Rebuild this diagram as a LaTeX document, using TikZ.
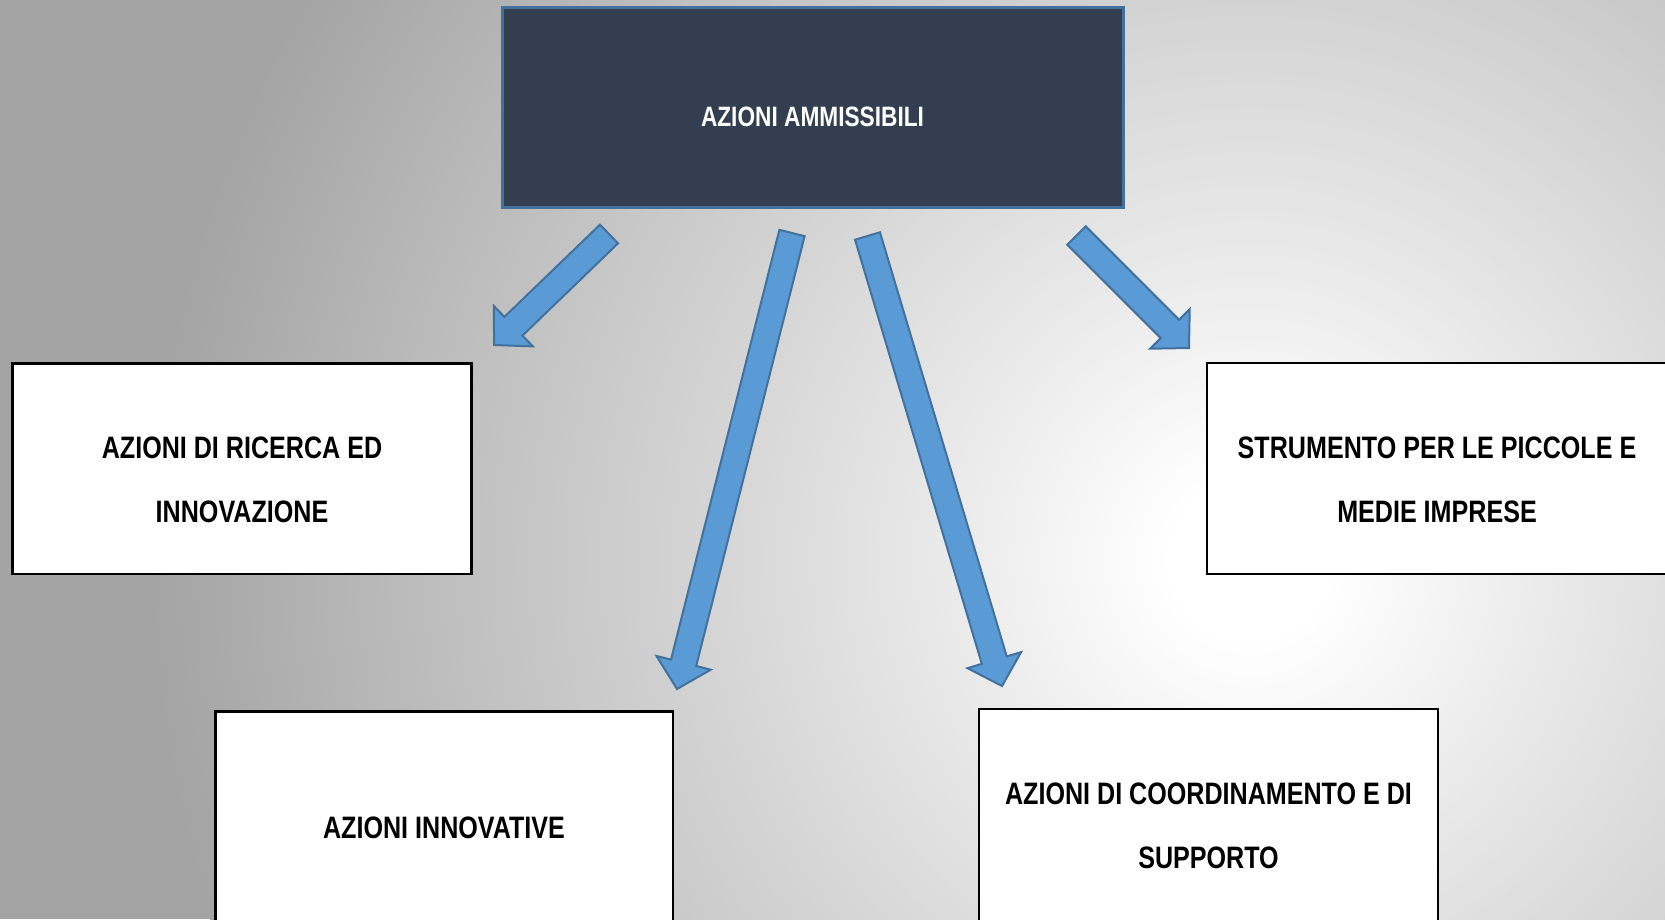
\documentclass[tikz,border=0pt]{standalone}
\usepackage{fontspec}
\setmainfont{Liberation Sans}[FakeStretch=0.81]
\usetikzlibrary{calc}
\definecolor{bgout}{HTML}{A4A4A4}
\definecolor{bgA}{HTML}{EAEAEA}
\definecolor{bgB}{HTML}{D4D4D4}
\definecolor{bgC}{HTML}{BFBFBF}
\definecolor{bgD}{HTML}{A8A8A8}
\definecolor{topfill}{HTML}{333F50}
\definecolor{topborder}{HTML}{41719C}
\definecolor{arrfill}{HTML}{5B9BD5}
\definecolor{arrborder}{HTML}{41719C}
\pgfdeclareradialshading{bgshade}{\pgfpoint{0bp}{0bp}}{color(0bp)=(white); color(1.8bp)=(white); color(6.8bp)=(bgA); color(12.5bp)=(bgB); color(18.2bp)=(bgC); color(23.9bp)=(bgD); color(25bp)=(bgout); color(50bp)=(bgout)}
\newcommand\myblockarrow[2]{%
  \coordinate (hb) at ($(#2)!27pt!(#1)$);
  \draw[blockarr] ($(#1)!13pt!90:(#2)$) -- ($(hb)!13pt!90:(#2)$) -- ($(hb)!28pt!90:(#2)$) -- (#2) -- ($(hb)!28pt!-90:(#2)$) -- ($(hb)!13pt!-90:(#2)$) -- ($(#1)!13pt!-90:(#2)$) -- cycle;}
\begin{document}
\begin{tikzpicture}[x=1pt,y=-1pt,
  topbox/.style={draw=topborder, fill=topfill, line width=3pt, inner sep=0pt},
  whitebox/.style={draw=black, fill=white, line width=2.5pt, inner sep=0pt},
  toptext/.style={text=white, font=\fontsize{28pt}{34pt}\selectfont\bfseries, inner sep=0pt},
  boxtext/.style={text=black, align=center, font=\fontsize{31pt}{64pt}\selectfont\bfseries, inner sep=0pt},
  blockarr/.style={fill=arrfill, draw=arrborder, line width=2pt, line join=miter}]
\useasboundingbox (0,0) rectangle (1665,919);
\clip (0,0) rectangle (1665,919);
\fill[bgout] (0,0) rectangle (1665,919);
\shade[shading=bgshade] (1250,560) circle[radius=1100pt];

% top box
\node[topbox, minimum width=621pt, minimum height=200pt] (top) at (812.5,107.2) {};
\node[toptext] (toplbl) at (812.5,117) {AZIONI AMMISSIBILI};

% boxes
\node[whitebox, minimum width=459.4pt, minimum height=210.7pt] (ric) at (242,468.7) {};
\node[boxtext] (riclbl) at (242,480) {AZIONI DI RICERCA ED\\INNOVAZIONE};

\node[whitebox, minimum width=460pt, minimum height=211pt] (pmi) at (1437,468.7) {};
\node[boxtext] (pmilbl) at (1437,480) {STRUMENTO PER LE PICCOLE E\\MEDIE IMPRESE};

\node[whitebox, minimum width=457.5pt, minimum height=300pt] (inn) at (444.2,861.5) {};
\node[boxtext] (innlbl) at (444,828) {AZIONI INNOVATIVE};

\node[whitebox, minimum width=459pt, minimum height=300pt] (coo) at (1208.5,859) {};
\node[boxtext] (coolbl) at (1208.5,826) {AZIONI DI COORDINAMENTO E DI\\SUPPORTO};

% arrows
\coordinate (a1s) at (609,234);   \coordinate (a1e) at (494,345);
\coordinate (a2s) at (792,233);   \coordinate (a2e) at (677,689);
\coordinate (a3s) at (867.5,236); \coordinate (a3e) at (1002,686);
\coordinate (a4s) at (1076.5,235.5); \coordinate (a4e) at (1189,348);
\myblockarrow{a1s}{a1e}
\myblockarrow{a2s}{a2e}
\myblockarrow{a3s}{a3e}
\myblockarrow{a4s}{a4e}
\end{tikzpicture}
\end{document}
